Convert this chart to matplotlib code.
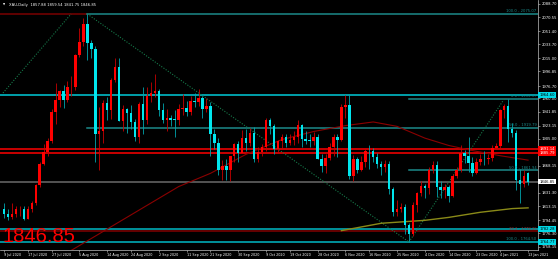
import matplotlib
matplotlib.use("Agg")
import matplotlib.pyplot as plt
import matplotlib.transforms as mtransforms
import numpy as np
import pandas as pd

# ---------------------------------------------------------------------------
# XAU daily candles, 9 Jul 2020 - 13 Jan 2021
# ---------------------------------------------------------------------------

opens = [
    1809, 1803, 1798, 1802, 1809, 1810, 1796, 1810, 1818, 1842, 1871, 1887, 1902, 1941, 1958, 1970, 1958,
    1975, 1976, 2019, 2037, 2062, 2035, 2028, 1911, 1915, 1954, 1944, 1985, 2003, 1929, 1946, 1940, 1928, 1908, 1953, 1930, 1964,
    1968, 1970, 1944, 1930, 1934, 1931, 1931, 1946, 1947, 1941, 1957, 1955, 1961, 1945, 1950, 1912, 1900, 1863, 1868, 1862, 1881, 1898,
    1886, 1906, 1900, 1913, 1878, 1887, 1894, 1930, 1922, 1891, 1902, 1908, 1900, 1904, 1907, 1924, 1905, 1902, 1902, 1908, 1878, 1868,
    1879, 1894, 1908, 1903, 1948, 1951, 1855, 1877, 1862, 1873, 1889, 1888, 1880, 1871, 1866, 1871, 1837, 1805, 1810, 1812, 1788,
    1776, 1815, 1831, 1841, 1838, 1863, 1870, 1839, 1836, 1839, 1827, 1855, 1863, 1886, 1881, 1872, 1859, 1873, 1877, 1877, 1879, 1893,
    1895, 1944, 1950, 1918, 1913, 1849, 1844, 1857.88,
]
highs = [
    1818, 1810, 1817, 1813, 1814, 1813, 1814, 1820, 1843, 1873, 1898, 1906, 1945, 1981, 1972, 1978, 1984,
    1990, 2021, 2056, 2070, 2075.07, 2039, 2031, 1949, 1958, 1962, 1988, 2015, 2015, 1951, 1947, 1951, 1932, 1955, 1976, 1975, 1982,
    1993, 1973, 1954, 1946, 1937, 1944, 1952, 1966, 1956, 1963, 1967, 1973, 1963, 1960, 1955, 1918, 1906, 1876, 1877, 1882, 1899, 1902,
    1917, 1918, 1920, 1921, 1894, 1898, 1933, 1933, 1925, 1903, 1911, 1912, 1911, 1916, 1931, 1925, 1916, 1911, 1914, 1911, 1884, 1884,
    1899, 1911, 1911, 1952, 1965, 1966, 1883, 1880, 1881, 1892, 1897, 1892, 1886, 1875, 1876, 1875, 1839, 1822, 1818, 1816, 1791,
    1819, 1832, 1848, 1844, 1866, 1875, 1875, 1848, 1844, 1842, 1857, 1867, 1897, 1890, 1907, 1880, 1879, 1884, 1888, 1885, 1897, 1900,
    1945, 1952, 1959.37, 1926, 1917, 1864, 1863, 1859.54,
]
lows = [
    1797, 1795, 1796, 1799, 1800, 1795, 1796, 1806, 1815, 1840, 1870, 1882, 1899, 1925, 1948, 1947, 1955,
    1964, 1972, 2016, 2032, 2012, 2015, 1874, 1863, 1900, 1930, 1932, 1982, 1929, 1915, 1913, 1918, 1902, 1900, 1912, 1925, 1955,
    1962, 1936, 1927, 1916, 1922, 1907, 1924, 1937, 1936, 1937, 1949, 1950, 1933, 1942, 1882, 1891, 1856, 1849, 1849, 1848, 1873, 1874,
    1886, 1889, 1895, 1874, 1873, 1881, 1889, 1911, 1885, 1886, 1892, 1894, 1896, 1896, 1899, 1894, 1898, 1894, 1897, 1877, 1860, 1859,
    1876, 1882, 1880, 1902, 1934, 1850, 1848, 1858, 1861, 1866, 1864, 1874, 1865, 1856, 1860, 1830, 1800, 1800, 1806, 1775, 1764.5,
    1773, 1806, 1827, 1825, 1830, 1858, 1826, 1825, 1825, 1819, 1826, 1851, 1860, 1872, 1860, 1855, 1857, 1869, 1869, 1871, 1875, 1891,
    1893, 1934, 1901, 1907, 1836, 1817, 1840, 1841.75,
]
closes = [
    1803, 1798, 1802, 1809, 1810, 1796, 1810, 1818, 1842, 1871, 1887, 1902, 1941, 1958, 1970, 1958, 1975,
    1976, 2019, 2037, 2062, 2035, 2028, 1911, 1915, 1954, 1944, 1985, 2003, 1929, 1946, 1940, 1928, 1908, 1953, 1930, 1964, 1968,
    1970, 1944, 1930, 1934, 1931, 1931, 1946, 1947, 1941, 1957, 1955, 1961, 1945, 1950, 1912, 1900, 1863, 1868, 1862, 1881, 1898, 1886,
    1906, 1900, 1913, 1878, 1887, 1894, 1930, 1922, 1891, 1902, 1908, 1900, 1904, 1907, 1924, 1905, 1902, 1902, 1908, 1878, 1868, 1879,
    1894, 1908, 1903, 1948, 1951, 1855, 1877, 1862, 1873, 1889, 1888, 1880, 1871, 1866, 1871, 1837, 1805, 1810, 1812, 1788, 1776,
    1815, 1831, 1841, 1838, 1863, 1870, 1839, 1836, 1839, 1827, 1855, 1863, 1886, 1881, 1872, 1859, 1873, 1877, 1877, 1879, 1893, 1895,
    1944, 1950, 1918, 1913, 1849, 1844, 1855, 1846.85,
]

holidays = ["2020-12-25", "2021-01-01"]
dates = pd.bdate_range("2020-07-09", "2021-01-13").drop(pd.to_datetime(holidays))

tick_dates = [
    "2020-07-09", "2020-07-17", "2020-07-27", "2020-08-05", "2020-08-14", "2020-08-24",
    "2020-09-02", "2020-09-11", "2020-09-21", "2020-09-30", "2020-10-09", "2020-10-19",
    "2020-10-28", "2020-11-06", "2020-11-16", "2020-11-25", "2020-12-04", "2020-12-14",
    "2020-12-23", "2021-01-04", "2021-01-13",
]
price_ticks = [
    2088.70, 2070.55, 2051.40, 2033.70, 2015.00, 1996.85, 1976.70, 1960.00, 1941.85,
    1923.15, 1905.00, 1868.15, 1831.30, 1813.15, 1794.45, 1776.30, 1758.15,
]

# moving averages, sampled off the chart (bar index, price)
ma_red_idx = [16, 30, 44, 52, 61, 70, 78, 86, 93, 99, 106, 112, 118, 125, 132]
ma_red_val = [1750, 1795, 1840, 1858, 1884, 1904, 1915, 1923, 1928, 1922, 1906, 1896, 1889, 1882, 1876]
ma_olive_idx = [85, 95, 106, 112, 120, 128, 132]
ma_olive_val = [1780, 1790, 1794, 1798, 1805, 1810, 1811]

# horizontal levels: price, colour, axis box colour, box text colour
levels = [
    (1964.60, "#00cbd8", "#00d8e6", "black"),
    (1891.14, "#ff0000", "#ff0000", "white"),
    (1885.79, "#ff0000", "#ff0000", "white"),
    (1846.85, "#6a6a6a", "#ffffff", "black"),
    (1782.28, "#00b8c4", "#00d8e6", "black"),
    (1779.25, "#800000", None, None),
    (1764.77, "#00b8c4", "#00d8e6", "black"),
]

# fibonacci rays: start bar, price, label
fib_rays = [
    (21, 2075.07, "100.0 - 2075.07"),
    (102, 1959.37, "0.0 - 1959.37"),
    (21, 1919.79, "50.0 - 1919.79"),
    (102, 1861.94, "50.0 - 1861.94"),
]
fib_trend = [
    ((-0.25, 1967.5), (16.9, 2075.07)),
    ((21, 2075.07), (102, 1764.5)),
    ((102, 1764.5), (126, 1959.37)),
]

BG = "black"
UP_BODY, UP_WICK = "#ff0000", "#c80000"
DN_BODY, DN_WICK = "#00e6ee", "#00a6ae"
TEAL = "#1c8a8a"
TXT = 2.7

fig = plt.figure(figsize=(5.58, 2.59), dpi=100, facecolor=BG)
ax = fig.add_axes([0, 9 / 259, 538 / 558, 250 / 259], facecolor=BG)

o = np.array(opens)
h = np.array(highs)
l = np.array(lows)
c = np.array(closes)
x = np.arange(len(c))
up = c > o

ax.vlines(x, l, h, colors=np.where(up, UP_WICK, DN_WICK), lw=0.6, zorder=4)
ax.bar(x, np.maximum(np.abs(c - o), 0.9), bottom=np.minimum(o, c), width=0.62,
       color=np.where(up, UP_BODY, DN_BODY), linewidth=0, zorder=5)

ax.plot(ma_red_idx, ma_red_val, color="#8b0000", lw=0.8, zorder=3)
ax.plot(ma_olive_idx, ma_olive_val, color="#8a8a18", lw=1.0, zorder=3)

right_edge = 134.5
box_tf = mtransforms.blended_transform_factory(ax.transAxes, ax.transData)

for price, col, box, tcol in levels:
    ax.axhline(price, color=col, lw=1.1, zorder=2)
    if box:
        ax.text(1.002, price, f"{price:.2f}", transform=box_tf, fontsize=TXT, color=tcol,
                va="center", ha="left", clip_on=False, zorder=10,
                bbox=dict(boxstyle="square,pad=0.25", fc=box, ec="none"))

ax.plot([-1.0, 21], [2075.07, 2075.07], color="#7a0000", lw=1.1, zorder=2)
for start, price, label in fib_rays:
    ax.plot([start, right_edge], [price, price], color=TEAL, lw=1.1, zorder=2)
    ax.text(right_edge - 0.4, price + 0.8, label, fontsize=TXT, color=TEAL,
            ha="right", va="bottom", zorder=6)
ax.text(right_edge - 0.4, 1765.5, "100.0 - 1764.50", fontsize=TXT, color=TEAL,
        ha="right", va="bottom", zorder=6)
ax.text(right_edge - 0.4, 1780.0, "38.2 - 1779.25", fontsize=TXT, color="#a03030",
        ha="right", va="bottom", zorder=6)

for (x0, y0), (x1, y1) in fib_trend:
    ax.plot([x0, x1], [y0, y1], color="#167a4a", lw=0.8, ls=(0, (1, 1.4)), zorder=2)

ax.set_xlim(-1.0, right_edge)
ax.set_ylim(1753.6, 2094.1)

ax.yaxis.tick_right()
ax.set_yticks(price_ticks, [f"{v:.2f}" for v in price_ticks])
tick_pos = [dates.get_loc(pd.Timestamp(d)) for d in tick_dates]
tick_lab = [pd.Timestamp(d).strftime("%-d %b %Y") for d in tick_dates]
ax.set_xticks(tick_pos, tick_lab)
for lab in ax.get_xticklabels():
    lab.set_ha("left")
ax.tick_params(axis="both", colors="#d0d0d0", labelcolor="white", labelsize=TXT,
               length=1.5, width=0.4, pad=1)
ax.tick_params(axis="x", labelsize=2.4)

for side in ("left", "top"):
    ax.spines[side].set_visible(False)
for side in ("right", "bottom"):
    ax.spines[side].set_color("#c0c0c0")
    ax.spines[side].set_linewidth(0.5)

fig.text(3 / 558, 1 - 5 / 259, "\u25bc", fontsize=2, color="white", va="center")
fig.text(9 / 558, 1 - 5 / 259, "XAU,Daily  1857.88 1859.54 1841.75 1846.85",
         fontsize=TXT, color="white", va="center")
fig.text(3 / 558, (259 - 242) / 259, "1846.85", fontsize=14.5, color="#ff0000",
         family="Liberation Sans", va="baseline", ha="left")

fig.savefig("out.png", dpi=100, facecolor=BG)
